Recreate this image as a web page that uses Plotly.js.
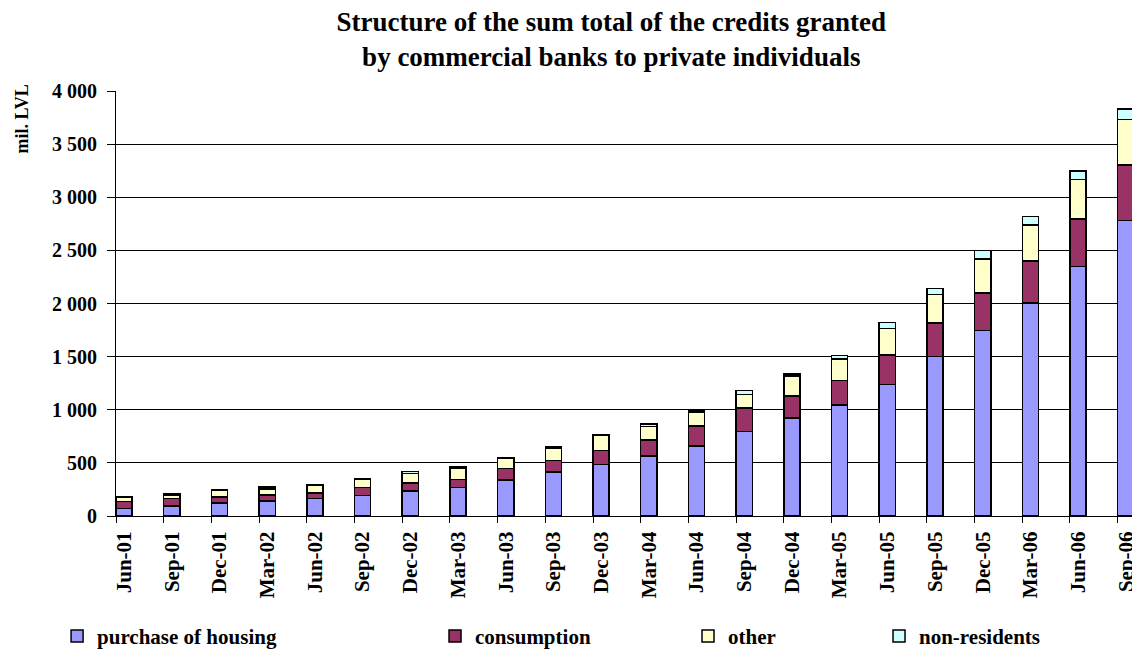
<!DOCTYPE html>
<html>
<head>
<meta charset="utf-8">
<script src="https://cdn.plot.ly/plotly-3.0.1.min.js"></script>
<style>html,body{margin:0;padding:0;background:#fff;}#chart{width:1132px;height:649px;}</style>
</head>
<body>
<div id="chart"></div>
<script>
const categories = ["Jun-01","Sep-01","Dec-01","Mar-02","Jun-02","Sep-02","Dec-02","Mar-03","Jun-03","Sep-03","Dec-03","Mar-04","Jun-04","Sep-04","Dec-04","Mar-05","Jun-05","Sep-05","Dec-05","Mar-06","Jun-06","Sep-06"];
const housing      = [70, 92, 123, 141, 163, 193, 233, 270, 337, 412, 487, 563, 657, 793, 921, 1046, 1238, 1501, 1745, 2005, 2347, 2779];
const consumption  = [68, 71, 55, 59, 55, 77, 77, 74, 110, 110, 129, 151, 189, 223, 208, 229, 275, 316, 354, 395, 448, 523];
const other        = [40, 37, 60, 55, 74, 77, 89, 110, 97, 116, 140, 129, 132, 129, 189, 204, 254, 266, 320, 341, 372, 429];
const nonResidents = [7, 5, 5, 18, 5, 5, 22, 5, 5, 18, 5, 22, 20, 35, 20, 30, 53, 57, 78, 76, 82, 101];
const seriesNames  = ["purchase of housing", "consumption", "other", "non-residents"];
const yTickVals    = [0, 500, 1000, 1500, 2000, 2500, 3000, 3500, 4000];
const yTickText    = ["0", "500", "1 000", "1 500", "2 000", "2 500", "3 000", "3 500", "4 000"];

const colors = ["#9999FF", "#993366", "#FFFFCC", "#CCFFFF"];
const font = "Liberation Serif, Times New Roman, serif";
const data = [housing, consumption, other, nonResidents];
const legendIds = ["legend", "legend2", "legend3", "legend4"];
const traces = data.map((vals, i) => ({
  type: "bar",
  name: seriesNames[i],
  x: categories,
  y: vals,
  width: 0.34,
  marker: {color: colors[i], line: {color: "#000", width: 1.5}},
  legend: legendIds[i],
  hoverinfo: "x+y+name"
}));
// offset tick marks (Excel draws ticks at the left edge of each bar)
const tickPos = categories.map((c, i) => i - 0.17);

const xr = [-0.17, 21.13];
const legendXs = [-0.058, 0.314, 0.563, 0.751];
const layout = {
  width: 1132, height: 649,
  margin: {l: 116, r: 0, t: 91, b: 133, autoexpand: false},
  paper_bgcolor: "#fff", plot_bgcolor: "#fff",
  barmode: "stack",
  showlegend: true,
  font: {family: font, color: "#000"},
  title: {
    text: "<b>Structure of the sum total of the credits granted<br>by commercial banks to private individuals</b>",
    font: {family: font, size: 27, color: "#000"},
    x: 0.54, xanchor: "center", y: 0.952, yanchor: "top", yref: "container"
  },
  xaxis: {
    type: "category", range: xr, automargin: false,
    tickangle: -90, ticks: "", ticklabelstandoff: 6,
    tickfont: {family: font, size: 21, color: "#000", weight: "bold"},
    showline: true, linecolor: "#000", linewidth: 1,
    showgrid: false, zeroline: false, fixedrange: true
  },
  xaxis2: {
    overlaying: "x", anchor: "y", type: "linear", range: xr, automargin: false,
    tickvals: tickPos, ticks: "outside", ticklen: 6, tickcolor: "#000", tickwidth: 1,
    showticklabels: false, showgrid: false, zeroline: false, showline: false
  },
  yaxis: {
    range: [0, 4000], tickvals: yTickVals, ticktext: yTickText, automargin: false,
    ticks: "outside", ticklen: 8, tickcolor: "#000", ticklabelstandoff: 6,
    tickfont: {family: font, size: 20, color: "#000", weight: "bold"},
    showgrid: true, gridcolor: "#000", gridwidth: 1,
    showline: true, linecolor: "#000", linewidth: 1,
    zeroline: false, fixedrange: true
  },
  annotations: [{
    text: "<b>mil. LVL</b>", textangle: -90,
    xref: "paper", yref: "paper", x: -0.093, y: 1.02,
    xanchor: "center", yanchor: "top", showarrow: false,
    font: {family: font, size: 18, color: "#000"}
  }]
};
legendIds.forEach((id, i) => {
  layout[id] = {
    x: legendXs[i], y: -0.283, xanchor: "left", yanchor: "middle",
    orientation: "h", bgcolor: "rgba(0,0,0,0)",
    font: {family: font, size: 21, color: "#000", weight: "bold"},
    itemwidth: 30
  };
});
traces.push({type: "scatter", x: [0], y: [0], xaxis: "x2", yaxis: "y", mode: "markers",
  marker: {opacity: 0}, showlegend: false, hoverinfo: "skip"});
Plotly.newPlot("chart", traces, layout, {displayModeBar: false, staticPlot: true});
</script>
</body>
</html>
